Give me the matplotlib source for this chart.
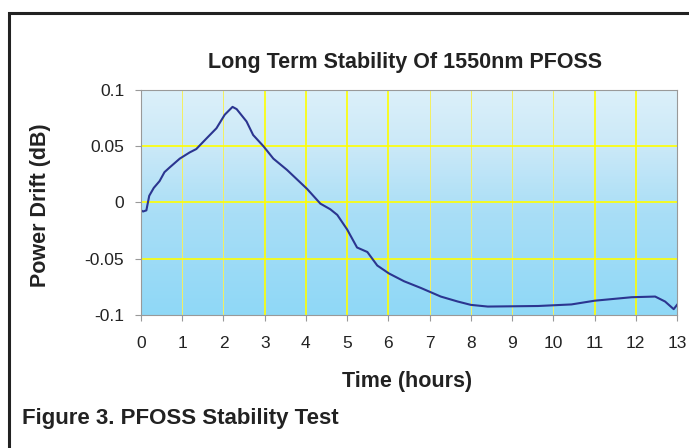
import numpy as np
import matplotlib.pyplot as plt
from matplotlib.colors import LinearSegmentedColormap
from matplotlib.patches import Rectangle

plt.rcParams['font.family'] = ['Liberation Sans', 'DejaVu Sans']

# Datos
tiempo = [0, 0.05, 0.13, 0.2, 0.31, 0.45, 0.57, 0.69, 0.94, 1.18, 1.34, 1.59,
          1.83, 2.03, 2.22, 2.32, 2.56, 2.72, 2.97, 3.21, 3.54, 4.03, 4.35,
          4.59, 4.76, 5.0, 5.24, 5.49, 5.73, 6.01, 6.38, 6.79, 7.27, 7.68,
          8.0, 8.41, 9.63, 10.44, 11.0, 11.9, 12.47, 12.71, 12.92, 13.0]
deriva = [-0.007, -0.008, -0.007, 0.006, 0.013, 0.019, 0.027, 0.031, 0.039,
          0.0445, 0.0475, 0.057, 0.066, 0.078, 0.085, 0.083, 0.072, 0.060,
          0.050, 0.039, 0.029, 0.012, -0.001, -0.006, -0.011, -0.024, -0.040,
          -0.044, -0.056, -0.063, -0.070, -0.076, -0.0836, -0.088, -0.091,
          -0.0925, -0.092, -0.0906, -0.0873, -0.0842, -0.0836, -0.088,
          -0.0948, -0.091]
x_ticks = list(range(0, 14))
y_ticks = [-0.1, -0.05, 0, 0.05, 0.1]
y_labels = ['-0.1', '-0.05', '0', '0.05', '0.1']
# lineas de rejilla que se ven mas marcadas en el original
rejilla_fuerte = [3, 4, 5, 6, 11, 12]

fig = plt.figure(figsize=(6.89, 4.48), dpi=100)

# Marco negro de la figura
fig.patches.append(Rectangle((9 / 689, -0.1), 1.2, 1 - 13 / 448 + 0.1,
                             transform=fig.transFigure, fill=False,
                             edgecolor='#222222', linewidth=2.2))

ax = fig.add_axes([141 / 689, 1 - 315 / 448, 536 / 689, 225 / 448])

# Fondo degradado
cmap = LinearSegmentedColormap.from_list(
    'fondo', [(0, '#8fd8f7'), (0.45, '#a9def6'), (0.75, '#cbe9f8'),
              (1, '#dcf0fa')])
grad = np.linspace(0, 1, 256).reshape(-1, 1)
ax.imshow(grad, cmap=cmap, aspect='auto', origin='lower',
          extent=[0, 13, -0.1, 0.1], zorder=0)

for xv in x_ticks[1:-1]:
    if xv in rejilla_fuerte:
        ax.axvline(xv, color='#ffff00', linewidth=1.2, zorder=1)
    else:
        ax.axvline(xv, color='#f4f060', linewidth=0.7, zorder=1)
for yv in y_ticks[1:-1]:
    ax.axhline(yv, color='#ffff00', linewidth=1.2, zorder=1)

ax.plot(tiempo, deriva, color='#2b3590', linewidth=1.5, zorder=2)

ax.set_xlim(0, 13)
ax.set_ylim(-0.1, 0.1)
ax.set_xticks(x_ticks)
ax.set_yticks(y_ticks)
ax.set_yticklabels(y_labels)
for s in ax.spines.values():
    s.set_color('#999999')
ax.tick_params(colors='#999999', labelcolor='#222222', labelsize=12.5,
               length=4, pad=8)
ax.tick_params(axis='x', pad=11)

fig.text(405 / 689, 1 - 62 / 448, 'Long Term Stability Of 1550nm PFOSS',
         ha='center', va='center', fontsize=15.5, fontweight='bold',
         color='#222222')
fig.text(41 / 689, 1 - 205 / 448, 'Power Drift (dB)', rotation=90,
         ha='center', va='center', fontsize=15.5, fontweight='bold',
         color='#222222')
fig.text(407 / 689, 1 - 381 / 448, 'Time (hours)', ha='center',
         va='center', fontsize=15.5, fontweight='bold', color='#222222')
fig.text(22 / 689, 1 - 418 / 448, 'Figure 3. PFOSS Stability Test',
         ha='left', va='center', fontsize=16, fontweight='bold',
         color='#222222')

fig.savefig('out.png', dpi=100)
